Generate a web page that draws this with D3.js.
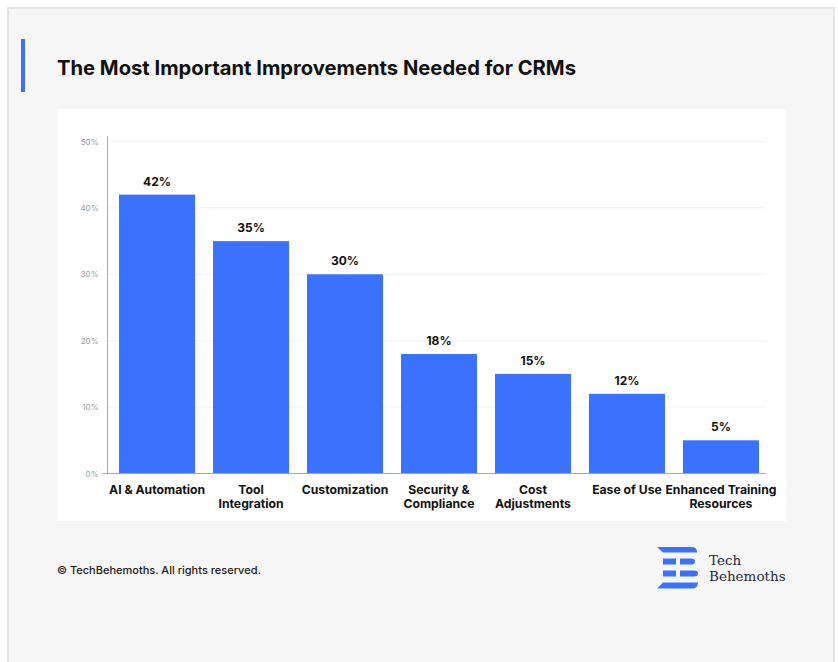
<!DOCTYPE html>
<html>
<head>
<meta charset="utf-8">
<script src="https://cdn.jsdelivr.net/npm/d3@7"></script>
<style>
  html, body { margin: 0; padding: 0; background: #ffffff; }
  svg { display: block; }
  text { font-family: Inter, "Noto Sans", sans-serif; }
  text.brand { font-family: "DejaVu Serif", "Liberation Serif", serif; }
</style>
</head>
<body>
<svg id="chart" width="838" height="662"></svg>
<script>
// Survey results: most important improvements needed for CRMs
const categories = [
  ["AI & Automation"],
  ["Tool", "Integration"],
  ["Customization"],
  ["Security &", "Compliance"],
  ["Cost", "Adjustments"],
  ["Ease of Use"],
  ["Enhanced Training", "Resources"]
];
const values = [42, 35, 30, 18, 15, 12, 5];
const yTicks = [0, 10, 20, 30, 40, 50];
const title = "The Most Important Improvements Needed for CRMs";
const footer = "\u00A9 TechBehemoths. All rights reserved.";

const BLUE = "#3a72fe";
const svg = d3.select("#chart");

// Page card
svg.append("rect").attr("x", 8).attr("y", 8).attr("width", 826).attr("height", 670)
  .attr("fill", "#f6f6f6").attr("stroke", "#e3e3e3").attr("stroke-width", 2);

// Title with accent bar
svg.append("rect").attr("x", 21).attr("y", 39).attr("width", 4).attr("height", 53).attr("fill", BLUE);
svg.append("text").attr("x", 57).attr("y", 75).text(title)
  .attr("font-size", 20.2).attr("font-weight", 700).attr("fill", "#111");

// White chart panel
svg.append("rect").attr("x", 57).attr("y", 109).attr("width", 729).attr("height", 412).attr("fill", "#ffffff");

const x = d3.scaleBand()
  .domain(d3.range(categories.length))
  .range([107, 771])
  .paddingInner(0.191)
  .paddingOuter(0.128);

const y = d3.scaleLinear().domain([0, 50]).range([473.5, 141.5]);

// Gridlines
svg.append("g").selectAll("line").data(yTicks.filter(d => d > 0)).join("line")
  .attr("x1", 107).attr("x2", 766)
  .attr("y1", d => y(d)).attr("y2", d => y(d))
  .attr("stroke", "#f1f1f1").attr("stroke-width", 1);

// Y axis
const yAxis = svg.append("g").attr("transform", "translate(107.5,0)")
  .call(d3.axisLeft(y).tickValues(yTicks).tickFormat(d => d + "%").tickSize(0).tickPadding(9));
yAxis.select(".domain").remove();
yAxis.selectAll("text").attr("font-size", 8).attr("fill", "#9a9a9a");

// Bars
svg.append("g").selectAll("rect").data(values).join("rect")
  .attr("x", (d, i) => x(i))
  .attr("width", x.bandwidth())
  .attr("y", d => y(d))
  .attr("height", d => y(0) - y(d))
  .attr("fill", BLUE);

// Axis lines
svg.append("line").attr("x1", 107.5).attr("x2", 107.5).attr("y1", y(50) - 5).attr("y2", y(0))
  .attr("stroke", "#a8a8a8").attr("stroke-width", 1);
svg.append("line").attr("x1", 103).attr("x2", 766).attr("y1", y(0)).attr("y2", y(0))
  .attr("stroke", "#a8a8a8").attr("stroke-width", 1);

// Value labels
svg.append("g").selectAll("text").data(values).join("text")
  .attr("x", (d, i) => x(i) + x.bandwidth() / 2)
  .attr("y", d => y(d) - 9)
  .attr("text-anchor", "middle")
  .attr("font-size", 12).attr("font-weight", 700).attr("fill", "#111")
  .text(d => d + "%");

// Category labels
const cat = svg.append("g").selectAll("text").data(categories).join("text")
  .attr("x", (d, i) => x(i) + x.bandwidth() / 2)
  .attr("y", 494)
  .attr("text-anchor", "middle")
  .attr("font-size", 12.2).attr("font-weight", 700).attr("fill", "#111");
cat.selectAll("tspan").data(d => d).join("tspan")
  .attr("x", function () { return d3.select(this.parentNode).attr("x"); })
  .attr("dy", (d, i) => i === 0 ? 0 : 13.5)
  .text(d => d);

// Footer
svg.append("text").attr("x", 57).attr("y", 574).text(footer)
  .attr("font-size", 11).attr("font-weight", 500).attr("fill", "#1a1a1a");

// Brand mark
const logo = svg.append("g").attr("fill", BLUE);
logo.append("path").attr("d", "M657,547 L692,547 Q697,547 697,552.5 L663,552.5 Z");
logo.append("rect").attr("x", 663).attr("y", 558.5).attr("width", 13).attr("height", 6);
logo.append("path").attr("d", "M680,558.5 L691,558.5 Q695,558.5 695,561.5 Q695,564.5 691,564.5 L680,564.5 Z");
logo.append("rect").attr("x", 663).attr("y", 570.5).attr("width", 13).attr("height", 6);
logo.append("path").attr("d", "M680,570.5 L694,570.5 Q698,570.5 698,573.5 Q698,576.5 694,576.5 L680,576.5 Z");
logo.append("path").attr("d", "M663,582.5 L698,582.5 Q698,588.5 692,588.5 L657,588.5 Z");
svg.append("text").attr("class", "brand").attr("x", 709).attr("y", 565).text("Tech")
  .attr("font-size", 13.5).attr("fill", "#1f2940");
svg.append("text").attr("class", "brand").attr("x", 709).attr("y", 581).text("Behemoths")
  .attr("font-size", 13.5).attr("fill", "#1f2940");
</script>
</body>
</html>
